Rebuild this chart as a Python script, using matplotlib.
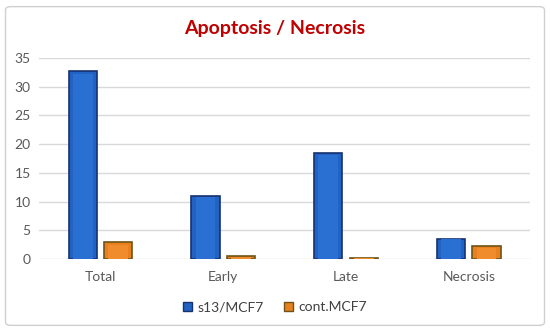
import numpy as np
import matplotlib
matplotlib.use("Agg")
import matplotlib.pyplot as plt
from matplotlib.patches import FancyBboxPatch, Patch

# ── Data ────────────────────────────────────────────────────
categories = ["Total", "Early", "Late", "Necrosis"]
s13_mcf7   = [32.8, 11.0, 18.4, 3.5]
cont_mcf7  = [3.0, 0.5, 0.2, 2.3]
y_ticks    = [0, 5, 10, 15, 20, 25, 30, 35]

plt.rcParams["font.family"] = ["Lato", "DejaVu Sans"]

fig = plt.figure(figsize=(5.5, 3.32), dpi=100)
ax = fig.add_axes([0.071, 0.22, 0.893, 0.605])

x = np.arange(len(categories))
w = 0.23
off = 0.145

blue, blue_edge = "#2162C2", "#17336E"
orange, orange_edge = "#E8801E", "#6E5418"

ax.bar(x - off, s13_mcf7, w, color=blue, edgecolor=blue_edge, linewidth=1.2, zorder=3)
ax.bar(x + off, cont_mcf7, w, color=orange, edgecolor=orange_edge, linewidth=1.2, zorder=3)
# lighter inner face for the bevel look
ax.bar(x - off, np.array(s13_mcf7) * 0.98, w * 0.7, color="#2A70D2", linewidth=0, zorder=4)
ax.bar(x + off, np.array(cont_mcf7) * 0.8, w * 0.7, color="#F08C2C", linewidth=0, zorder=4)

ax.set_xlim(-0.5, len(categories) - 0.5)
ax.set_ylim(0, 35)
ax.set_yticks(y_ticks)
ax.set_xticks(x)
ax.set_xticklabels(categories)
ax.grid(axis="y", color="#D9D9D9", linewidth=1, zorder=0)
for s in ax.spines.values():
    s.set_visible(False)
ax.tick_params(length=0, labelsize=10, colors="#595959", pad=9)
ax.tick_params(axis="y", pad=6)

fig.text(0.5, 0.915, "Apoptosis / Necrosis", ha="center", va="center",
         fontsize=14, fontweight="bold", color="#C00000")

handles = [Patch(facecolor=blue, edgecolor=blue_edge, label="s13/MCF7"),
           Patch(facecolor=orange, edgecolor=orange_edge, label="cont.MCF7")]
fig.legend(handles=handles, loc="center", bbox_to_anchor=(0.5, 0.075), ncol=2,
           frameon=False, fontsize=10, handlelength=0.6, handleheight=0.6,
           handletextpad=0.4, columnspacing=1.5, labelcolor="#404040")

border = FancyBboxPatch((0.01, 0.02), 0.98, 0.96, boxstyle="round,pad=0,rounding_size=0.01",
                        transform=fig.transFigure, fill=False, edgecolor="#D0D0D0", linewidth=1)
fig.patches.append(border)

fig.savefig("out.png", dpi=100)
